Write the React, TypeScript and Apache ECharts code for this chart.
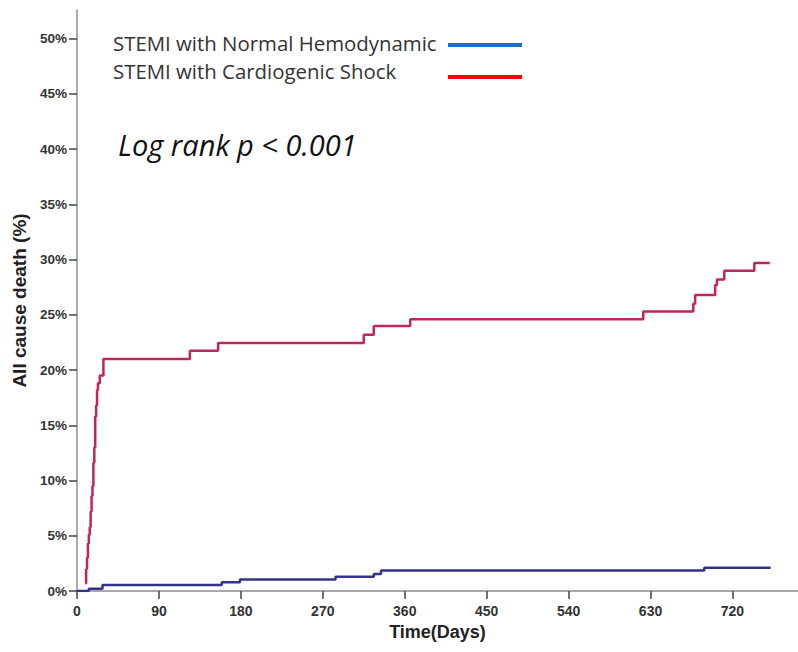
import React, { useEffect, useRef } from "react";
import * as echarts from "echarts";

const redDays = [9, 10, 11, 12, 13, 14, 15, 16, 17, 18, 19, 20, 21, 22, 23, 25, 29, 124, 155, 315, 326, 366, 622, 677, 679, 701, 703, 711, 744, 761];
const redPct = [0.7, 2.0, 3.0, 4.3, 5.1, 5.8, 7.2, 8.6, 9.5, 11.6, 13.0, 15.8, 16.8, 18.2, 18.8, 19.5, 21.0, 21.75, 22.45, 23.2, 24.0, 24.6, 25.3, 26.0, 26.8, 27.7, 28.2, 29.0, 29.7, 29.7];

const blueDays = [0, 13, 28, 159, 179, 284, 326, 334, 689, 762];
const bluePct = [0, 0.2, 0.55, 0.8, 1.05, 1.3, 1.55, 1.85, 2.1, 2.1];

const xTicks = [0, 90, 180, 270, 360, 450, 540, 630, 720];
const yTicks = [0, 5, 10, 15, 20, 25, 30, 35, 40, 45, 50];

const seriesNames = ["STEMI with Normal Hemodynamic", "STEMI with Cardiogenic Shock"];
const annotation = "Log rank p < 0.001";

export default function App() {
  const ref = useRef<HTMLDivElement>(null);
  useEffect(() => {
    if (!ref.current) return;
    const chart = echarts.init(ref.current, null, { renderer: "svg" });
    const zip = (a: number[], b: number[]) => a.map((v, i) => [v, b[i]]);
    const axisLabelFont = { fontFamily: "Liberation Sans, Arial, sans-serif", fontWeight: "bold" as const, color: "#333" };
    chart.setOption({
      animation: false,
      grid: { left: 77, right: 0, top: 10, bottom: 61, containLabel: false },
      xAxis: {
        type: "value",
        min: 0,
        max: 792,
        name: "Time(Days)",
        nameLocation: "middle",
        nameGap: 30,
        nameTextStyle: { ...axisLabelFont, fontSize: 18, color: "#222" },
        axisLine: { show: true, lineStyle: { color: "#8c8c8c", width: 1.5 } },
        axisTick: { show: true, length: 8, lineStyle: { color: "#444", width: 1.5 }, customValues: xTicks },
        axisLabel: { ...axisLabelFont, fontSize: 14, margin: 13, customValues: xTicks },
        splitLine: { show: false },
      },
      yAxis: {
        type: "value",
        min: 0,
        max: 52.6,
        name: "All cause death (%)",
        nameLocation: "middle",
        nameGap: 41,
        nameTextStyle: { ...axisLabelFont, fontSize: 19, color: "#222" },
        axisLine: { show: true, lineStyle: { color: "#8c8c8c", width: 1.5 } },
        axisTick: { show: true, length: 8, lineStyle: { color: "#444", width: 1.5 }, customValues: yTicks },
        axisLabel: { ...axisLabelFont, fontSize: 13.5, margin: 10, formatter: "{value}%", customValues: yTicks },
        splitLine: { show: false },
      },
      series: [
        {
          name: seriesNames[0],
          type: "line",
          step: "end",
          data: zip(blueDays, bluePct),
          showSymbol: false,
          lineStyle: { color: "#33338a", width: 2.5 },
          z: 3,
        },
        {
          name: seriesNames[1],
          type: "line",
          step: "end",
          data: zip(redDays, redPct),
          showSymbol: false,
          lineStyle: { color: "#c2255c", width: 2.5 },
          z: 2,
        },
      ],
      graphic: [
        { type: "text", left: 113, top: 33, style: { text: seriesNames[0], font: "20.4px 'Open Sans', sans-serif", fill: "#333" } },
        { type: "text", left: 113, top: 61, style: { text: seriesNames[1], font: "20.4px 'Open Sans', sans-serif", fill: "#333" } },
        { type: "line", shape: { x1: 448, y1: 45, x2: 522, y2: 45 }, style: { stroke: "#1f6fc1", lineWidth: 4 } },
        { type: "line", shape: { x1: 448, y1: 77, x2: 522, y2: 77 }, style: { stroke: "#ff0000", lineWidth: 4 } },
        { type: "text", left: 118, top: 130, style: { text: annotation, font: "italic 29px 'Open Sans', sans-serif", fill: "#111" } },
      ],
    });
    return () => chart.dispose();
  }, []);
  return <div ref={ref} style={{ width: 798, height: 652, position: "absolute", left: 0, top: 0 }} />;
}
